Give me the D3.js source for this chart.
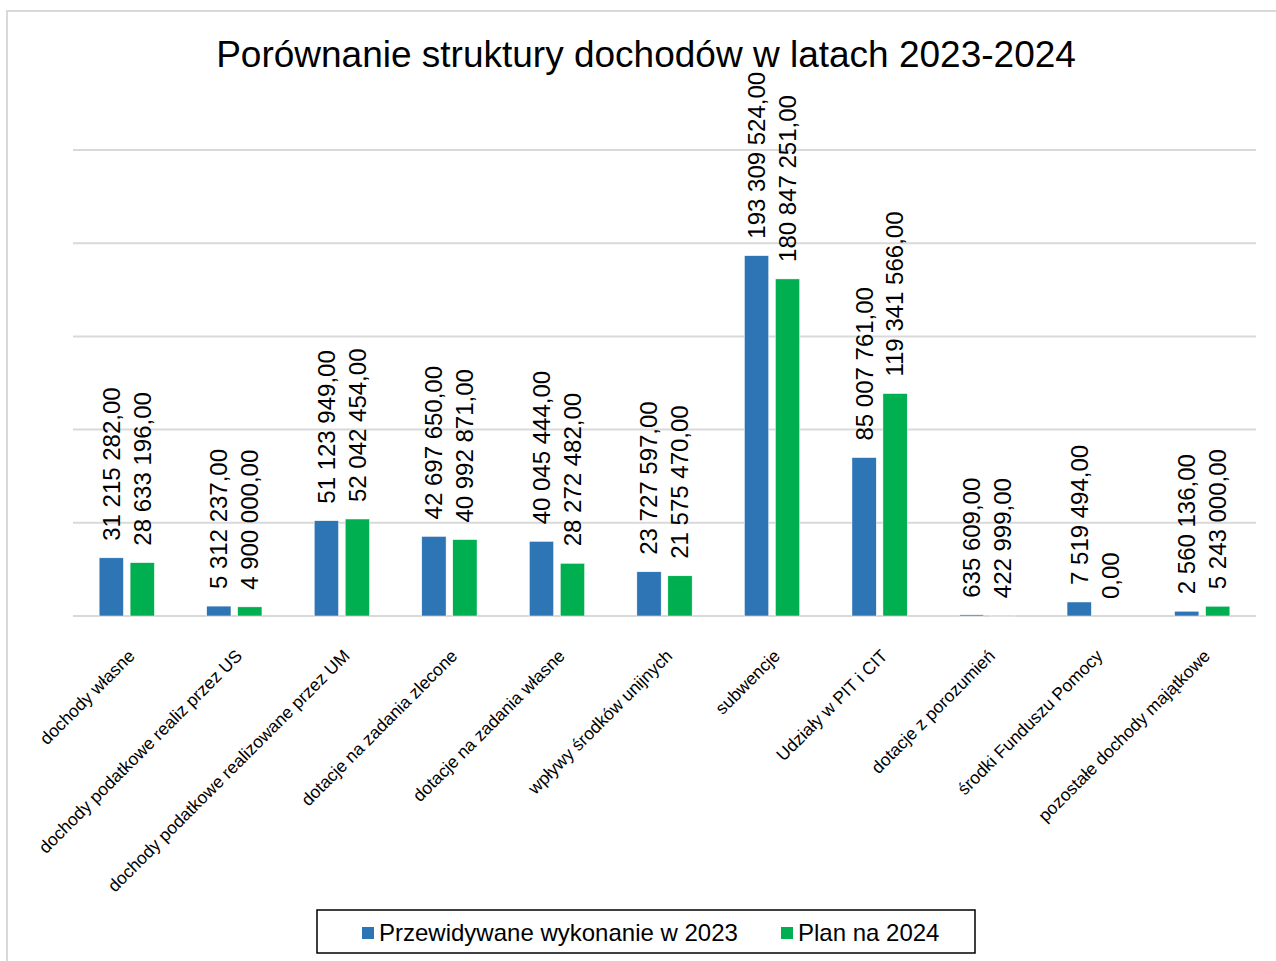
<!DOCTYPE html>
<html>
<head>
<meta charset="utf-8">
<script src="https://cdn.jsdelivr.net/npm/d3@7"></script>
<style>
  html, body { margin: 0; padding: 0; background: #fff; }
  svg { display: block; font-family: "Liberation Sans", Arial, sans-serif; }
</style>
</head>
<body>
<svg id="chart" width="1276" height="961"></svg>
<script>
const title = "Porównanie struktury dochodów w latach 2023-2024";
const categories = [
  "dochody własne",
  "dochody podatkowe realiz przez US",
  "dochody podatkowe realizowane przez UM",
  "dotacje na zadania zlecone",
  "dotacje na zadania własne",
  "wpływy środków unijnych",
  "subwencje",
  "Udziały w PIT i CIT",
  "dotacje z porozumień",
  "środki Funduszu Pomocy",
  "pozostałe dochody majątkowe"
];
const seriesNames = ["Przewidywane wykonanie w 2023", "Plan na 2024"];
const values2023 = [31215282, 5312237, 51123949, 42697650, 40045444, 23727597, 193309524, 85007761, 635609, 7519494, 2560136];
const values2024 = [28633196, 4900000, 52042454, 40992871, 28272482, 21575470, 180847251, 119341566, 422999, 0, 5243000];
const gridTicks = [0, 50000000, 100000000, 150000000, 200000000, 250000000];
const colors = ["#2E75B6", "#00B050"];

const svg = d3.select("#chart");
const W = 1276, H = 961;
const plot = { left: 73, right: 1256, top: 150, bottom: 616 };

// outer chart frame
svg.append("rect").attr("x", 7).attr("y", 11).attr("width", W + 20).attr("height", H + 20)
  .attr("fill", "#fff").attr("stroke", "#d9d9d9").attr("stroke-width", 2);

svg.append("text").attr("x", 646).attr("y", 67).attr("text-anchor", "middle")
  .attr("font-size", 37).attr("fill", "#000").text(title);

const x = d3.scaleBand().domain(categories).range([plot.left, plot.right]).padding(0);
const y = d3.scaleLinear().domain([0, 250000000]).range([plot.bottom, plot.top]);

// gridlines
svg.append("g").selectAll("line").data(gridTicks).join("line")
  .attr("x1", plot.left).attr("x2", plot.right)
  .attr("y1", d => y(d)).attr("y2", d => y(d))
  .attr("stroke", "#d9d9d9").attr("stroke-width", 2);

const bw = x.bandwidth();
const barW = bw * 0.226, gap = bw * 0.062;
const series = [values2023, values2024];
const locale = d3.formatLocale({ decimal: ",", thousands: "\u00a0", grouping: [3], currency: ["", ""] });
const fmt = locale.format(",.2f");

series.forEach((vals, si) => {
  const off = si === 0 ? -(gap / 2 + barW) : gap / 2;
  const g = svg.append("g");
  g.selectAll("rect").data(vals).join("rect")
    .attr("x", (d, i) => x(categories[i]) + bw / 2 + off)
    .attr("width", barW)
    .attr("y", d => y(d))
    .attr("height", d => y(0) - y(d))
    .attr("fill", colors[si])
    .attr("stroke", "#fff").attr("stroke-width", 0.5);
  g.selectAll("text").data(vals).join("text")
    .attr("transform", (d, i) => {
      const cx = x(categories[i]) + bw / 2 + off + barW / 2;
      return `translate(${cx},${y(d) - 17}) rotate(-90)`;
    })
    .attr("dy", "0.35em")
    .attr("font-size", 24)
    .attr("fill", "#000")
    .text(d => fmt(d));
});

// category labels
svg.append("g").selectAll("text").data(categories).join("text")
  .attr("transform", d => `translate(${x(d) + bw / 2 + 9},${657}) rotate(-45)`)
  .attr("text-anchor", "end")
  .attr("font-size", 17.5)
  .attr("fill", "#000")
  .text(d => d);

// legend
const lg = svg.append("g");
lg.append("rect").attr("x", 317).attr("y", 910).attr("width", 658).attr("height", 43)
  .attr("fill", "#fff").attr("stroke", "#000").attr("stroke-width", 1.5);
const legendX = [362, 781];
seriesNames.forEach((n, i) => {
  lg.append("rect").attr("x", legendX[i]).attr("y", 927).attr("width", 12).attr("height", 12).attr("fill", colors[i]);
  lg.append("text").attr("x", legendX[i] + 17).attr("y", 941).attr("font-size", 24).attr("fill", "#000").text(n);
});
</script>
</body>
</html>
